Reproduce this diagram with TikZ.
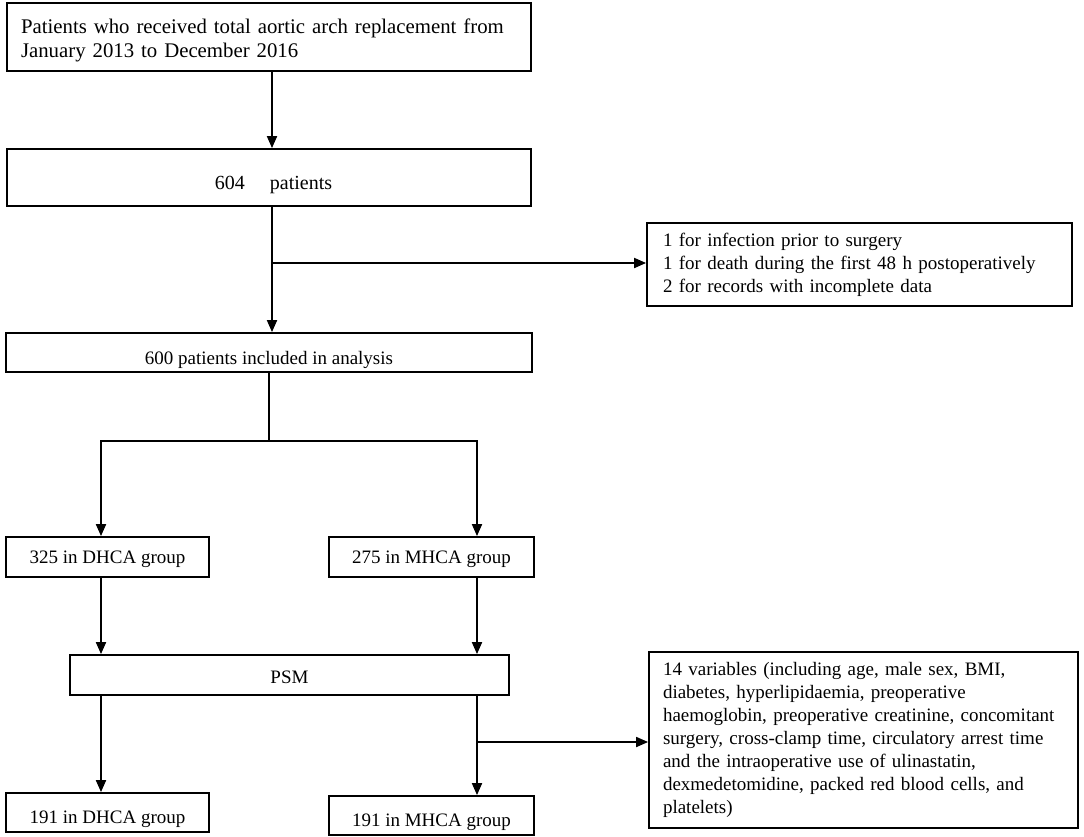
\documentclass[tikz,border=0pt]{standalone}
\usepackage{fontspec}
\setmainfont{Liberation Serif}
\usetikzlibrary{arrows.meta}
\newcommand{\lowtxt}[2]{\raisebox{-#1}[13pt][4.5pt]{#2}}
\begin{document}
\begin{tikzpicture}[x=1pt,y=-1pt,
  box/.style={draw=black, line width=1.8pt, rectangle, inner sep=0pt,
    font=\fontsize{19pt}{23pt}\selectfont, align=center},
  lbox/.style={box, align=left},
  arr/.style={line width=1.8pt, -{Triangle[length=12pt,width=10pt]}},
  ln/.style={line width=1.8pt}]
\useasboundingbox (0,0) rectangle (1084,836);
\fill[white] (0,0) rectangle (1084,836);

\node[lbox, minimum width=524pt, minimum height=68pt, text width=496pt,
  font=\fontsize{20.8pt}{24pt}\selectfont] (b1) at (269,37)
  {\rule{0pt}{21.3pt}Patients who received total aortic arch replacement from\\January 2013 to December 2016};
\node[box, minimum width=524pt, minimum height=57pt,
  font=\fontsize{20pt}{24pt}\selectfont] (b2) at (269,177.5)
  {\lowtxt{7.5pt}{\hspace*{9pt}604\hspace{25pt}patients}};
\node[lbox, minimum width=425pt, minimum height=83pt, text width=393pt] (s1) at (859.5,264.5)
  {1 for infection prior to surgery\\1 for death during the first 48 h postoperatively\\2 for records with incomplete data};
\node[box, minimum width=526pt, minimum height=39pt] (b3) at (269,352.5)
  {\lowtxt{8pt}{600 patients included in analysis}};
\node[box, minimum width=203pt, minimum height=40pt] (d1) at (107.5,557)
  {\lowtxt{2.5pt}{325 in DHCA group}};
\node[box, minimum width=205pt, minimum height=40pt] (m1) at (431.5,557)
  {\lowtxt{2.5pt}{275 in MHCA group}};
\node[box, minimum width=439pt, minimum height=40pt] (psm) at (289.5,675)
  {\lowtxt{4pt}{PSM}};
\node[box, minimum width=203pt, minimum height=39pt] (d2) at (107.5,812.5)
  {\lowtxt{6.5pt}{191 in DHCA group}};
\node[box, minimum width=205pt, minimum height=39pt] (m2) at (431.5,815.5)
  {\lowtxt{6.5pt}{191 in MHCA group}};
\node[lbox, minimum width=429pt, minimum height=176pt, text width=401pt] (s2) at (863.5,740)
  {14 variables (including age, male sex, BMI,\\diabetes, hyperlipidaemia, preoperative\\haemoglobin, preoperative creatinine, concomitant\\surgery, cross-clamp time, circulatory arrest time\\and the intraoperative use of ulinastatin,\\dexmedetomidine, packed red blood cells, and\\platelets)};

\coordinate (j1) at (272,263);
\coordinate (j2) at (269,441);
\coordinate (jl) at (101,441);
\coordinate (jr) at (477,441);
\coordinate (j3) at (477,742);

\draw[arr] ([xshift=3pt]b1.south) -- ([xshift=3pt]b2.north);
\draw[arr] ([xshift=3pt]b2.south) -- ([xshift=3pt]b3.north);
\draw[arr] (j1) -- (j1 -| s1.west);
\draw[ln] (b3.south) -- (j2);
\draw[arr] (j2) -| (jl |- d1.north);
\draw[arr] (j2) -| (jr |- m1.north);
\draw[arr] (jl |- d1.south) -- (jl |- psm.north);
\draw[arr] (jr |- m1.south) -- (jr |- psm.north);
\draw[arr] (jl |- psm.south) -- (jl |- d2.north);
\draw[arr] (jr |- psm.south) -- (jr |- m2.north);
\draw[arr] (j3) -- (j3 -| s2.west);
\end{tikzpicture}
\end{document}
